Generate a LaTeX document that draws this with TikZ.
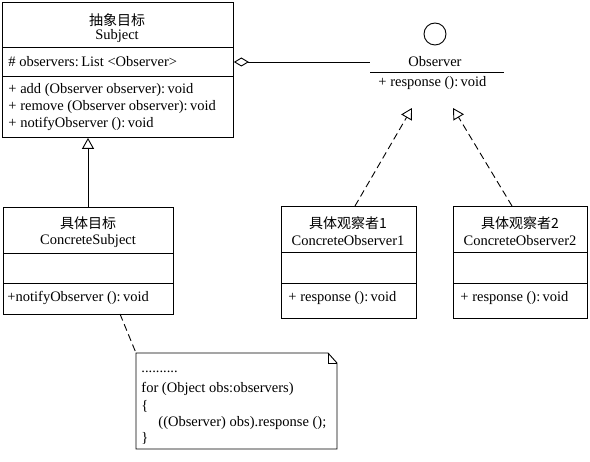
\documentclass[tikz,border=0pt]{standalone}
\usepackage{fontspec}
\setmainfont{Liberation Serif}
\newfontfamily\cjk{Noto Sans CJK SC}
\usetikzlibrary{arrows.meta}
\begin{document}
\begin{tikzpicture}[x=1pt,y=-1pt, line width=0.9pt,
 box/.style={draw, inner sep=0, anchor=north west},
 lbl/.style={inner sep=0, font=\fontsize{14.5}{16}\selectfont},
 cn/.style={inner sep=0, font=\fontsize{14}{16}\selectfont\cjk},
 lw/.style={lbl, anchor=west},
 tri/.style={-{Triangle[open,length=11pt,width=12pt]}},
 dsh/.style={dash pattern=on 7pt off 4pt}]
\useasboundingbox[fill=white] (0,0) rectangle (590,462);
% Subject
\node[box, minimum width=231pt, minimum height=135pt] (subj) at (2,2) {};
\draw (subj.west |- 0,47) -- (subj.east |- 0,47);
\draw (subj.west |- 0,76) -- (subj.east |- 0,76);
\node[cn] (subjcn) at (117,20) {抽象目标};
\node[lbl] (subjen) at (117,36) {Subject};
\node[lw] (subjat) at (8,62) {\# observers:\,List <Observer>};
\node[lw] (subjm1) at (8,90) {+ add (Observer observer):\,void};
\node[lw] (subjm2) at (8,107) {+ remove (Observer observer):\,void};
\node[lw] (subjm3) at (8,124) {+ notifyObserver ():\,void};
% Observer interface
\node[draw, circle, minimum size=22pt, inner sep=0] (obscirc) at (435,34) {};
\node[lbl] (obsname) at (435,62) {Observer};
\coordinate (obsL) at (370,72);
\coordinate (obsR) at (504,72);
\draw (obsL) -- (obsR);
\node[lw] (obsm) at (378,83) {+ response ():\,void};
\coordinate (aggEnd) at (370,62);
\draw[{Diamond[open,length=15pt,width=9pt]}-] (subj.east |- aggEnd) -- (aggEnd);
% ConcreteSubject
\node[box, minimum width=170pt, minimum height=107pt] (cs) at (3,207) {};
\draw (cs.west |- 0,253) -- (cs.east |- 0,253);
\draw (cs.west |- 0,283) -- (cs.east |- 0,283);
\node[cn] (cscn) at (88,223) {具体目标};
\node[lbl] (csen) at (88,241) {ConcreteSubject};
\node[lw] (csm) at (7,298) {+notifyObserver ():\,void};
\coordinate (inhX) at (88,0);
\draw[tri] (cs.north -| inhX) -- (subj.south -| inhX);
% ConcreteObserver1
\node[box, minimum width=135pt, minimum height=112pt] (co1) at (281,206) {};
\draw (co1.west |- 0,252) -- (co1.east |- 0,252);
\draw (co1.west |- 0,283) -- (co1.east |- 0,283);
\node[cn] (co1cn) at (348,223) {具体观察者1};
\node[lbl] (co1en) at (348,241) {ConcreteObserver1};
\node[lw] (co1m) at (288,298) {+ response ():\,void};
% ConcreteObserver2
\node[box, minimum width=134pt, minimum height=112pt] (co2) at (453,206) {};
\draw (co2.west |- 0,252) -- (co2.east |- 0,252);
\draw (co2.west |- 0,283) -- (co2.east |- 0,283);
\node[cn] (co2cn) at (520,223) {具体观察者2};
\node[lbl] (co2en) at (520,241) {ConcreteObserver2};
\node[lw] (co2m) at (460,298) {+ response ():\,void};
% realizations
\coordinate (r1s) at (355,206);
\coordinate (r1e) at (412,108);
\coordinate (r2s) at (512,206);
\coordinate (r2e) at (453,108);
\draw[tri, dsh] (r1s) -- (r1e);
\draw[tri, dsh] (r2s) -- (r2e);
% note
\coordinate (nTL) at (136,353);
\coordinate (nF1) at (328,353);
\coordinate (nF2) at (337,363);
\coordinate (nBR) at (337,449);
\draw (nTL) -- (nF1) -- (nF2) -- (nBR) -- (nTL |- nBR) -- cycle;
\draw (nF1) -- (nF1 |- nF2) -- (nF2);
\coordinate (csAnchor) at (120,314);
\draw[dsh] (csAnchor) -- (nTL);
\node[lw] (nt0) at (141,372) {..........};
\node[lw] (nt1) at (141,389) {for (Object obs:observers)};
\node[lw] (nt2) at (141,406) {\{};
\node[lw] (nt3) at (158,423) {((Observer) obs).response ();};
\node[lw] (nt4) at (141,438) {\}};
\end{tikzpicture}
\end{document}
